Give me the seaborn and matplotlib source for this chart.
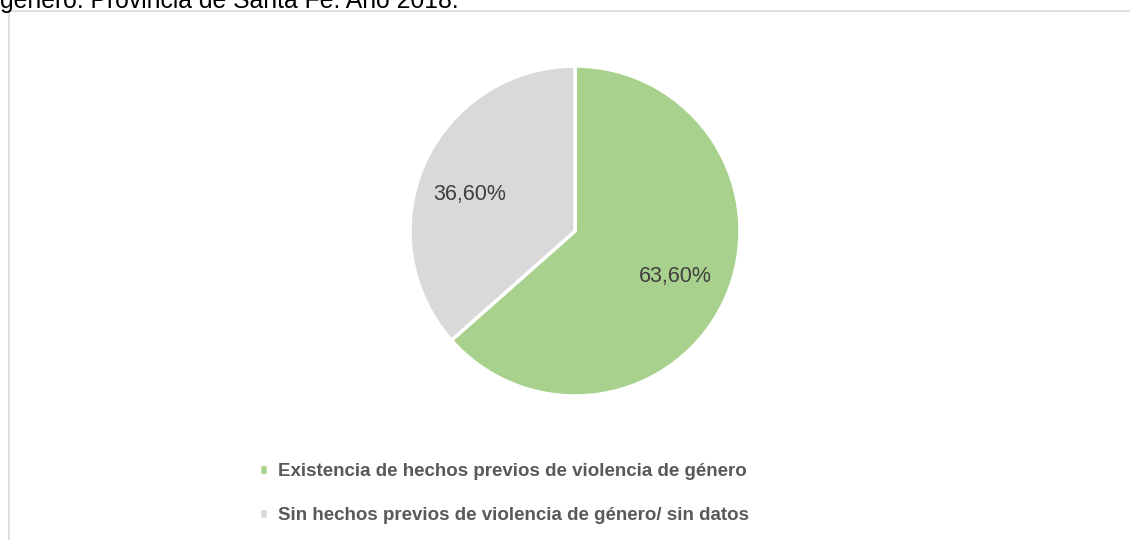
import matplotlib
matplotlib.use("Agg")
import matplotlib.pyplot as plt
from matplotlib.lines import Line2D
import seaborn as sns

# Data
categorias = ["Existencia de hechos previos de violencia de género",
              "Sin hechos previos de violencia de género/ sin datos"]
porcentajes = [63.6, 36.6]
colores = ["#a9d18e", "#d9d9d9"]
titulo = "género. Provincia de Santa Fe. Año 2018."

sns.set_theme(style="white")
plt.rcParams['font.family'] = ['Liberation Sans', 'DejaVu Sans']

W, H = 1130, 540
fig = plt.figure(figsize=(W / 100, H / 100), dpi=100)

# pie axes: centre (575, 231) px, radius 165 px
cx, cy, r = 575, 231, 165
ax = fig.add_axes([(cx - r) / W, 1 - (cy + r) / H, 2 * r / W, 2 * r / H])
total = sum(porcentajes)
wedges, _, autotexts = ax.pie(
    porcentajes, colors=colores, startangle=90, counterclock=False,
    autopct=lambda p: f"{p * total / 100:.2f}%".replace(".", ","),
    pctdistance=0.67, wedgeprops=dict(edgecolor="white", linewidth=2.5),
    textprops=dict(color="#404040", fontsize=15.5))
# Excel puts the small slice label a bit lower/left
autotexts[1].set_position((-0.64, 0.22))
ax.set_xlim(-1, 1)
ax.set_ylim(-1, 1)
ax.set_aspect("equal")
ax.axis("off")

# legend below the pie
fig.legend(wedges, categorias, loc="upper left",
           bbox_to_anchor=(242 / W, 1 - 446 / H), frameon=False,
           prop=dict(weight="bold", size=13.5), labelcolor="#595959",
           handlelength=0.5, handleheight=0.5, handletextpad=0.5,
           labelspacing=1.45)

# cut-off caption at the top
fig.text(0, 1 - 8 / H, titulo, fontsize=17.8, color="black",
         ha="left", va="baseline")

# chart frame (top and left edges)
fig.add_artist(Line2D([8 / W, 1], [1 - 10.5 / H] * 2, color="#d9d9d9", lw=1.2))
fig.add_artist(Line2D([8.5 / W] * 2, [0, 1 - 10.5 / H], color="#d9d9d9", lw=1.2))

fig.savefig("out.png", dpi=100, facecolor="white")
